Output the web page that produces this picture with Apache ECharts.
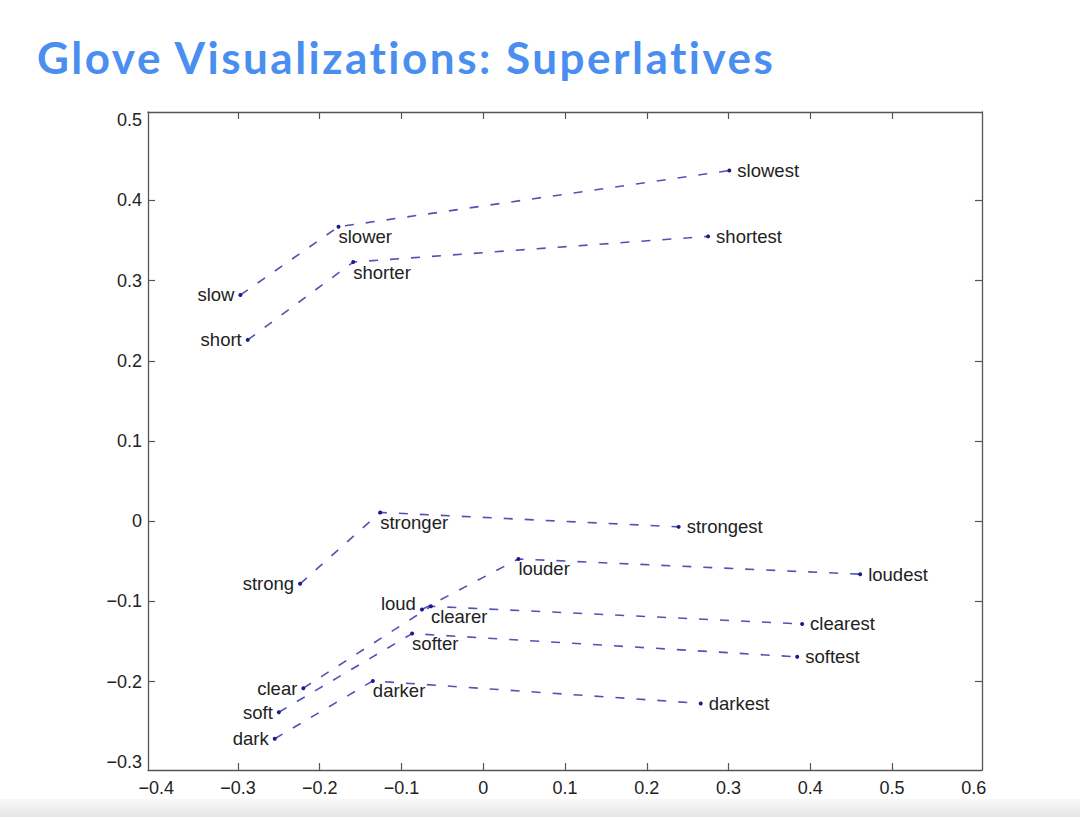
<!DOCTYPE html>
<html>
<head>
<meta charset="utf-8">
<script src="https://cdn.jsdelivr.net/npm/echarts@6/dist/echarts.min.js"></script>
<style>
html,body{margin:0;padding:0;background:#fff;}
#chart{width:1080px;height:817px;}
svg text{font-variant-ligatures:none;}
svg text[fill="#4a8ef0"]{letter-spacing:2.5px;}
</style>
</head>
<body>
<div id="chart"></div>
<script>
const titleText = 'Glove Visualizations: Superlatives';
const xTicks = [-0.4, -0.3, -0.2, -0.1, 0, 0.1, 0.2, 0.3, 0.4, 0.5, 0.6];
const yTicks = [-0.3, -0.2, -0.1, 0, 0.1, 0.2, 0.3, 0.4, 0.5];

const baseWords = ['slow', 'short', 'strong', 'loud', 'clear', 'soft', 'dark'];
const baseX = [-0.297, -0.288, -0.224, -0.075, -0.220, -0.250, -0.255];
const baseY = [0.282, 0.226, -0.078, -0.110, -0.208, -0.238, -0.271];

const compWords = ['slower', 'shorter', 'stronger', 'louder', 'clearer', 'softer', 'darker'];
const compX = [-0.177, -0.159, -0.126, 0.043, -0.064, -0.087, -0.135];
const compY = [0.367, 0.323, 0.011, -0.047, -0.106, -0.140, -0.199];

const supWords = ['slowest', 'shortest', 'strongest', 'loudest', 'clearest', 'softest', 'darkest'];
const supX = [0.301, 0.275, 0.239, 0.461, 0.390, 0.384, 0.266];
const supY = [0.437, 0.355, -0.007, -0.066, -0.128, -0.169, -0.227];

const fmt = v => {
  const s = Math.abs(v) < 1e-9 ? '0' : String(Math.round(v * 10) / 10);
  return s.replace('-', '\u2212');
};
// inner ticks only (the outermost ones sit on the box corners and are not drawn)
const xInnerTicks = xTicks.slice(1, -1);
const yInnerTicks = yTicks.slice(1, -1);

const labelFont = {fontFamily: 'Liberation Sans', fontSize: 18.5, color: '#222'};

const series = baseWords.map((w, i) => ({
  type: 'line',
  symbol: 'circle',
  symbolSize: 4,
  itemStyle: {color: '#1a1a8c'},
  lineStyle: {color: '#5252b4', width: 1.6, type: [9, 12]},
  animation: false,
  data: [
    {value: [baseX[i], baseY[i]], name: w,
     label: {show: true, position: 'left', distance: 4, offset: [0, w === 'loud' ? -6 : 0], formatter: '{b}', ...labelFont}},
    {value: [compX[i], compY[i]], name: compWords[i],
     label: {show: true, position: 'right', distance: 0, offset: [-2, 10], formatter: '{b}', ...labelFont}},
    {value: [supX[i], supY[i]], name: supWords[i],
     label: {show: true, position: 'right', distance: 6, offset: [0, 0], formatter: '{b}', ...labelFont}}
  ]
}));

const axisLineStyle = {color: '#555', width: 1.3};
const tickStyle = {show: true, inside: true, length: 7, lineStyle: {color: '#555', width: 1.2}};
const tickLabel = {fontFamily: 'Liberation Sans', fontSize: 18, color: '#222'};

const chart = echarts.init(document.getElementById('chart'), null, {renderer: 'svg'});
chart.setOption({
  backgroundColor: '#fff',
  animation: false,
  grid: {left: 148, right: 98, top: 112, bottom: 47},
  xAxis: [
    {type: 'value', min: -0.41, max: 0.61, position: 'bottom',
     axisLine: {show: true, onZero: false, lineStyle: axisLineStyle},
     axisTick: {...tickStyle, customValues: xInnerTicks},
     axisLabel: {...tickLabel, margin: 9, customValues: xTicks, formatter: fmt},
     splitLine: {show: false}},
    {type: 'value', min: -0.41, max: 0.61, position: 'top',
     axisLine: {show: true, onZero: false, lineStyle: axisLineStyle},
     axisTick: {...tickStyle, customValues: xInnerTicks},
     axisLabel: {show: false},
     splitLine: {show: false}}
  ],
  yAxis: [
    {type: 'value', min: -0.31, max: 0.51, position: 'left',
     axisLine: {show: true, onZero: false, lineStyle: axisLineStyle},
     axisTick: {...tickStyle, customValues: yInnerTicks},
     axisLabel: {...tickLabel, margin: 6, customValues: yTicks, formatter: fmt},
     splitLine: {show: false}},
    {type: 'value', min: -0.31, max: 0.51, position: 'right',
     axisLine: {show: true, onZero: false, lineStyle: axisLineStyle},
     axisTick: {...tickStyle, customValues: yInnerTicks},
     axisLabel: {show: false},
     splitLine: {show: false}}
  ],
  graphic: [
    {type: 'text', left: 37, top: 35,
     style: {text: titleText, font: 'bold 44px Lato', fill: '#4a8ef0'}},
    {type: 'rect', left: 0, top: 799, shape: {width: 1080, height: 18},
     style: {fill: new echarts.graphic.LinearGradient(0, 0, 0, 1, [{offset: 0, color: '#f8f8f8'}, {offset: 1, color: '#e6e6e6'}])}, z: -1}
  ],
  series: series
});
</script>
</body>
</html>
